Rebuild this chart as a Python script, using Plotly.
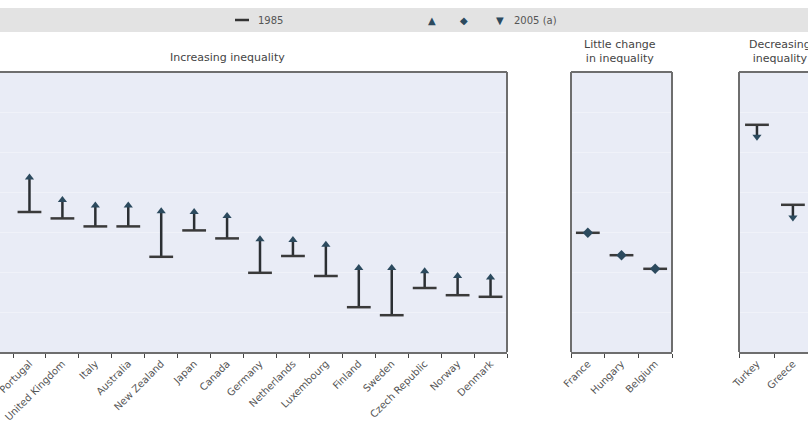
import plotly.graph_objects as go

W, H = 808, 432
TOP, BOT = 72, 352

# ---- data ----
inc_countries = ["Portugal", "United Kingdom", "Italy", "Australia", "New Zealand", "Japan",
                 "Canada", "Germany", "Netherlands", "Luxembourg", "Finland", "Sweden",
                 "Czech Republic", "Norway", "Denmark"]
inc_1985 = [0.275, 0.267, 0.257, 0.257, 0.219, 0.252, 0.242, 0.199, 0.220, 0.195, 0.156, 0.146, 0.180, 0.171, 0.169]
inc_2005 = [0.318, 0.290, 0.283, 0.283, 0.276, 0.275, 0.270, 0.241, 0.240, 0.234, 0.205, 0.205, 0.201, 0.195, 0.193]

lc_countries = ["France", "Hungary", "Belgium"]
lc_1985 = [0.249, 0.221, 0.204]
lc_2005 = [0.249, 0.221, 0.204]

dec_countries = ["Turkey", "Greece"]
dec_1985 = [0.384, 0.284]
dec_2005 = [0.369, 0.268]

legend_1985 = "1985"
legend_2005 = "2005 (a)"
titles = ["Increasing inequality", "Little change<br>in inequality", "Decreasing<br>inequality"]

# ---- style ----
BG = "#e9ecf6"
FRAME = "#6e6e6e"
LINE = "#2b2f33"
MARK = "#2c4a5e"
BAR = "#3a3a3a"
TXT = "#555555"

fig = go.Figure()

panels = [
    ("x", "y", inc_countries, inc_1985, inc_2005, "triangle-up"),
    ("x2", "y2", lc_countries, lc_1985, lc_2005, "diamond"),
    ("x3", "y3", dec_countries, dec_1985, dec_2005, "triangle-down"),
]

for xa, ya, cats, v85, v05, sym in panels:
    lx, ly = [], []
    for c, a, b in zip(cats, v85, v05):
        lx += [c, c, None]
        ly += [a, b, None]
    fig.add_trace(go.Scatter(x=lx, y=ly, mode="lines", xaxis=xa, yaxis=ya,
                             line=dict(color=LINE, width=2.5), showlegend=False, hoverinfo="skip"))
    fig.add_trace(go.Scatter(x=cats, y=v85, mode="markers", xaxis=xa, yaxis=ya,
                             marker=dict(symbol="line-ew", size=17, line=dict(color=BAR, width=2.5)),
                             showlegend=False, name=legend_1985))
    fig.add_trace(go.Scatter(x=cats, y=v05, mode="markers", xaxis=xa, yaxis=ya,
                             marker=dict(symbol=sym, size=8, color=MARK),
                             showlegend=False, name=legend_2005))

def px(p):
    return p / W

yr = [0.10, 0.45]
common_x = dict(type="category", showgrid=False, zeroline=False, tickson="boundaries",
                ticks="outside", ticklen=4, tickcolor="#444", tickangle=-45, automargin=False,
                tickfont=dict(family="DejaVu Sans", size=10, color=TXT),
                showline=True, linecolor=FRAME, linewidth=2)
common_y = dict(range=yr, showticklabels=False, ticks="", showgrid=True, automargin=False,
                gridcolor="#f0f2f9", gridwidth=1, dtick=0.05, zeroline=False, showline=False)

fig.update_layout(
    width=W, height=H,
    margin=dict(l=0, r=0, t=TOP, b=H - BOT, autoexpand=False),
    paper_bgcolor="white", plot_bgcolor=BG,
    xaxis=dict(domain=[0, px(507)], range=[-0.895, 14.5], **common_x),
    xaxis2=dict(domain=[px(571), px(672)], range=[-0.5, 2.5], **common_x),
    xaxis3=dict(domain=[px(739), 1], range=[-0.5, 1.42], **common_x),
    yaxis=dict(anchor="x", **common_y),
    yaxis2=dict(anchor="x2", **common_y),
    yaxis3=dict(anchor="x3", **common_y),
    showlegend=False,
)

def py(p):
    return (BOT - p) / (BOT - TOP)

shapes = []
frame = dict(type="line", xref="paper", yref="paper", line=dict(color=FRAME, width=2))
shapes.append(dict(frame, x0=-0.01, x1=px(507), y0=1, y1=1))
shapes.append(dict(frame, x0=px(507), x1=px(507), y0=0, y1=1))
shapes.append(dict(frame, x0=px(571), x1=px(672), y0=1, y1=1))
shapes.append(dict(frame, x0=px(571), x1=px(571), y0=0, y1=1))
shapes.append(dict(frame, x0=px(672), x1=px(672), y0=0, y1=1))
shapes.append(dict(frame, x0=px(739), x1=1.01, y0=1, y1=1))
shapes.append(dict(frame, x0=px(739), x1=px(739), y0=0, y1=1))
shapes.append(dict(type="rect", xref="paper", yref="paper", x0=0, x1=1, y0=py(32), y1=py(8),
                   fillcolor="#e3e3e3", line=dict(width=0), layer="below"))
# legend key for 1985 (horizontal bar)
shapes.append(dict(type="line", xref="paper", yref="paper", x0=px(235), x1=px(249), y0=py(20), y1=py(20),
                   line=dict(color="#333", width=2.5)))
fig.update_layout(shapes=shapes)

ann = []
tfont = dict(family="DejaVu Sans", size=11, color="#444")
lfont = dict(family="DejaVu Sans", size=10, color="#555")
ann.append(dict(text=titles[0], x=px(228), y=py(58), xref="paper", yref="paper",
                showarrow=False, font=tfont, xanchor="center", yanchor="middle"))
ann.append(dict(text=titles[1], x=px(620), y=py(51), xref="paper", yref="paper",
                showarrow=False, font=tfont, xanchor="center", yanchor="middle"))
ann.append(dict(text=titles[2], x=px(780), y=py(51), xref="paper", yref="paper",
                showarrow=False, font=tfont, xanchor="center", yanchor="middle"))
ann.append(dict(text=legend_1985, x=px(256), y=py(20),
                xref="paper", yref="paper", showarrow=False, font=lfont, xanchor="left", yanchor="middle"))
for sx, ch in [(432, "▲"), (464, "◆"), (500, "▼")]:
    ann.append(dict(text=ch, x=px(sx), y=py(20), xref="paper", yref="paper", showarrow=False,
                    font=dict(family="DejaVu Sans", size=10, color=MARK), xanchor="center", yanchor="middle"))
ann.append(dict(text=legend_2005, x=px(512), y=py(20), xref="paper", yref="paper", showarrow=False,
                font=lfont, xanchor="left", yanchor="middle"))
fig.update_layout(annotations=ann)

fig.write_html("out.html", config={"displayModeBar": False},
               post_script="document.body.style.margin='0';document.body.style.overflow='hidden';")
